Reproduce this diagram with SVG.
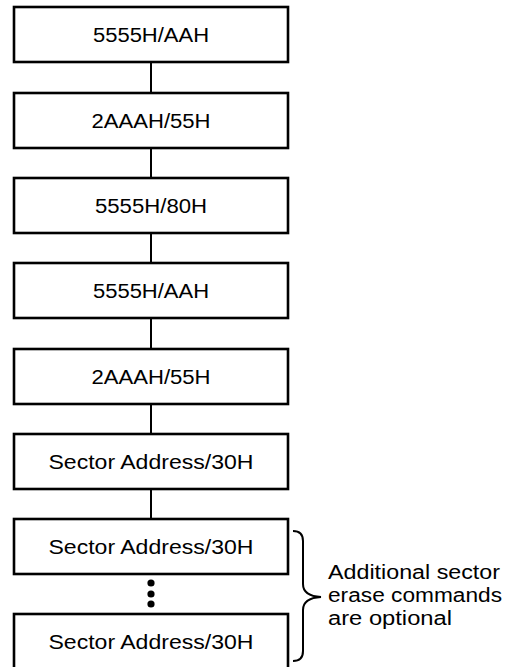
<svg xmlns="http://www.w3.org/2000/svg" width="515" height="667" viewBox="0 0 515 667">
<style>
.box{fill:#fff;stroke:#000;stroke-width:2.6}
.t{font-family:"Liberation Sans",Arial,sans-serif;font-size:19.5px;fill:#000;text-anchor:middle}
.n{font-family:"Liberation Sans",Arial,sans-serif;font-size:20px;fill:#000}
.c{stroke:#000;stroke-width:2;fill:none}
</style>
<rect width="515" height="667" fill="#fff"/>
<g id="connectors">
<line class="c" x1="151" y1="62" x2="151" y2="93"/>
<line class="c" x1="151" y1="148" x2="151" y2="178"/>
<line class="c" x1="151" y1="233" x2="151" y2="263"/>
<line class="c" x1="151" y1="318" x2="151" y2="349"/>
<line class="c" x1="151" y1="404" x2="151" y2="434"/>
<line class="c" x1="151" y1="489" x2="151" y2="519"/>
<circle cx="151" cy="583" r="3.6"/>
<circle cx="151" cy="594" r="3.6"/>
<circle cx="151" cy="604" r="3.6"/>
</g>
<g id="n1"><rect class="box" x="14" y="7" width="274" height="55"/><text class="t" x="151" y="41.5" textLength="116" lengthAdjust="spacingAndGlyphs">5555H/AAH</text></g>
<g id="n2"><rect class="box" x="14" y="93" width="274" height="55"/><text class="t" x="151" y="127.5" textLength="119" lengthAdjust="spacingAndGlyphs">2AAAH/55H</text></g>
<g id="n3"><rect class="box" x="14" y="178" width="274" height="55"/><text class="t" x="151" y="212.5" textLength="112" lengthAdjust="spacingAndGlyphs">5555H/80H</text></g>
<g id="n4"><rect class="box" x="14" y="263" width="274" height="55"/><text class="t" x="151" y="297.5" textLength="116" lengthAdjust="spacingAndGlyphs">5555H/AAH</text></g>
<g id="n5"><rect class="box" x="14" y="349" width="274" height="55"/><text class="t" x="151" y="383.5" textLength="119" lengthAdjust="spacingAndGlyphs">2AAAH/55H</text></g>
<g id="n6"><rect class="box" x="14" y="434" width="274" height="55"/><text class="t" x="151" y="468.5" textLength="205" lengthAdjust="spacingAndGlyphs">Sector Address/30H</text></g>
<g id="n7"><rect class="box" x="14" y="519" width="274" height="55"/><text class="t" x="151" y="553.5" textLength="205" lengthAdjust="spacingAndGlyphs">Sector Address/30H</text></g>
<g id="n8"><rect class="box" x="14" y="614" width="274" height="60"/><text class="t" x="151" y="648.5" textLength="205" lengthAdjust="spacingAndGlyphs">Sector Address/30H</text></g>
<g id="note">
<path class="c" stroke-width="2.6" d="M293 531 Q303 531 303 541 L303 584 Q303 596 321 597 Q303 598 303 610 L303 651 Q303 661 293 661"/>
<text class="n" x="328" y="579" textLength="172" lengthAdjust="spacingAndGlyphs">Additional sector</text>
<text class="n" x="328" y="602" textLength="174" lengthAdjust="spacingAndGlyphs">erase commands</text>
<text class="n" x="328" y="625" textLength="124" lengthAdjust="spacingAndGlyphs">are optional</text>
</g>
</svg>
